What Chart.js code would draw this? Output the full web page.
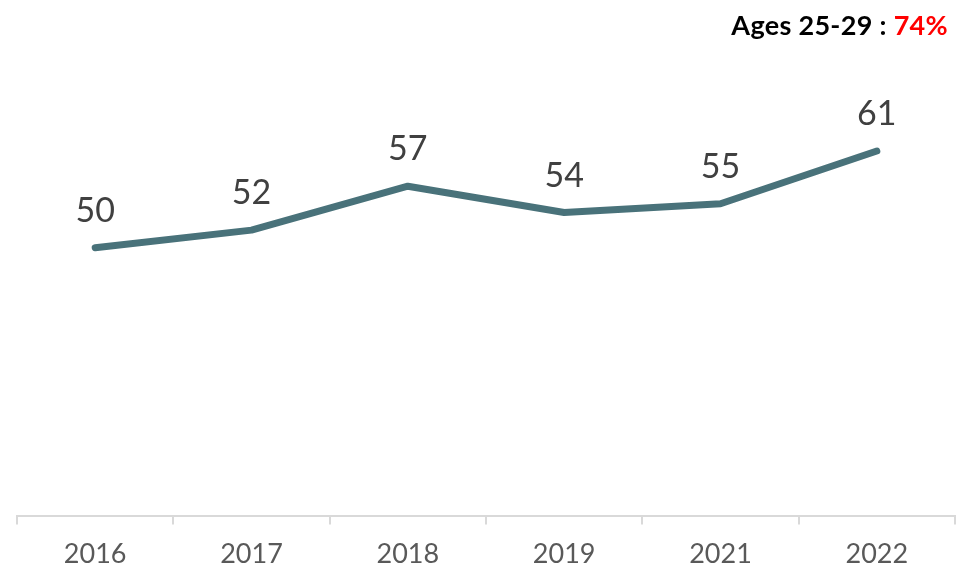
<!DOCTYPE html>
<html>
<head>
<meta charset="utf-8">
<script src="https://cdn.jsdelivr.net/npm/chart.js@4"></script>
<style>
  html, body { margin: 0; padding: 0; background: #fff; overflow: hidden; }
  #wrap { position: relative; width: 962px; height: 577px; overflow: hidden; }
  #headline {
    position: absolute; right: 14px; top: 8px;
    font-family: Lato, sans-serif; font-weight: bold; font-size: 27px; color: #000;
    letter-spacing: 0.3px;
  }
  #headline .pct { color: #ff0000; }
</style>
</head>
<body>
<div id="wrap">
  <canvas id="chartTrend" width="962" height="583"></canvas>
  <div id="headline">Ages 25-29 : <span class="pct">74%</span></div>
</div>
<script>
// Survey years and share (%) for the age group
const years = ['2016', '2017', '2018', '2019', '2021', '2022'];
const values = [50, 52, 57, 54, 55, 61];
const yMin = 19.5;
const yMax = 70;

// Writes each value above its point on the line
const valueLabels = {
  id: 'valueLabels',
  afterDatasetsDraw(chart) {
    const ctx = chart.ctx;
    const meta = chart.getDatasetMeta(0);
    ctx.save();
    ctx.font = '34px Lato, sans-serif';
    ctx.fillStyle = '#404040';
    ctx.textAlign = 'center';
    ctx.textBaseline = 'alphabetic';
    meta.data.forEach((pt, i) => {
      ctx.fillText(String(values[i]), pt.x, pt.y - 26);
    });
    ctx.restore();
  }
};

const ctx = document.getElementById('chartTrend').getContext('2d');
new Chart(ctx, {
  type: 'line',
  data: {
    labels: years,
    datasets: [{
      data: values,
      borderColor: '#49727a',
      borderWidth: 7,
      borderCapStyle: 'round',
      borderJoinStyle: 'round',
      pointRadius: 0,
      tension: 0,
      fill: false
    }]
  },
  options: {
    responsive: false,
    animation: false,
    layout: { padding: { left: 17, right: 7, top: 72, bottom: 0 } },
    plugins: {
      legend: { display: false },
      tooltip: { enabled: false }
    },
    scales: {
      x: {
        offset: true,
        grid: {
          offset: true,
          drawOnChartArea: false,
          drawTicks: true,
          tickLength: 9,
          color: '#d9d9d9',
          lineWidth: 2
        },
        border: { color: '#d9d9d9', width: 2 },
        ticks: {
          color: '#595959',
          font: { family: 'Lato', size: 27 },
          padding: 13
        }
      },
      y: {
        display: false,
        min: yMin,
        max: yMax
      }
    }
  },
  plugins: [valueLabels]
});
</script>
</body>
</html>
